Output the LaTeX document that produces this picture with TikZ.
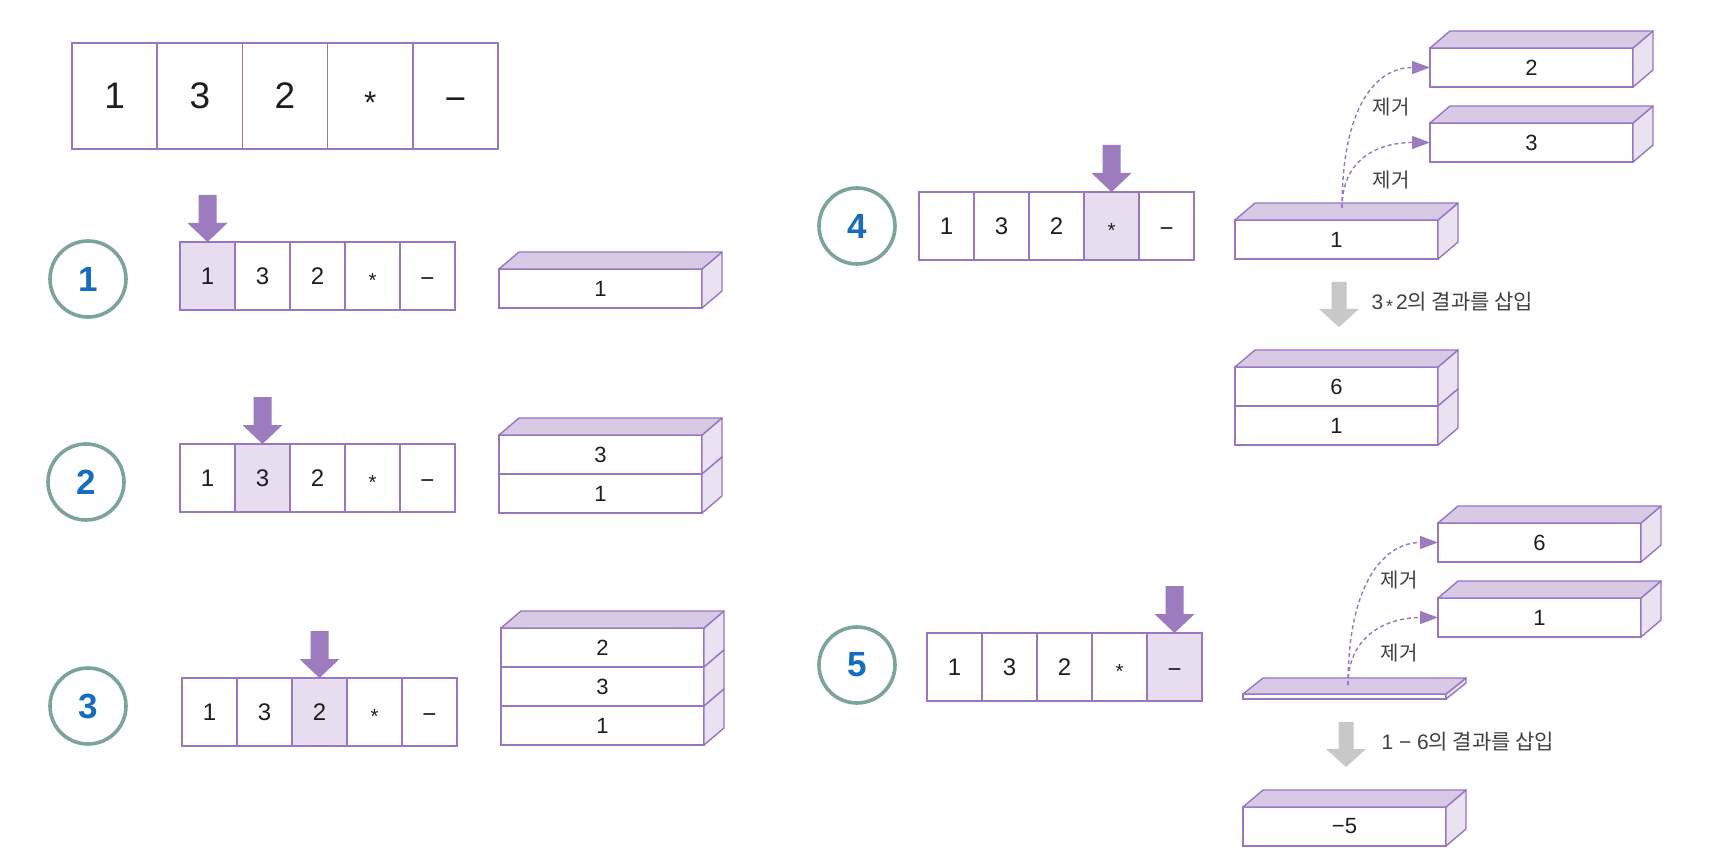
\documentclass[tikz,border=0pt]{standalone}
\usepackage{fontspec}
\setmainfont{Liberation Sans}
\newfontfamily\kr{Noto Sans CJK KR}
\usetikzlibrary{arrows.meta,calc}
\definecolor{pline}{RGB}{152,118,194}
\definecolor{parrowc}{RGB}{156,124,190}
\definecolor{topc}{RGB}{216,201,229}
\definecolor{sidec}{RGB}{234,226,241}
\definecolor{hlc}{RGB}{231,221,239}
\definecolor{circc}{RGB}{124,166,147}
\definecolor{numblue}{RGB}{22,108,190}
\definecolor{grayc}{RGB}{200,200,200}
\definecolor{txt}{RGB}{30,30,30}
\newcommand\mystar{\vphantom{0}\smash{\raisebox{-0.13em}{\scalebox{0.85}{*}}}}
\newcommand\mymin{\vphantom{0}\smash{\raisebox{-0.08em}{−}}}
\newcommand\bigfont{\fontsize{37}{40}\selectfont}
\newcommand\arrfont{\fontsize{24}{27}\selectfont}
\newcommand\stkfont{\fontsize{22}{25}\selectfont}
\newcommand\numfont{\fontsize{35}{38}\selectfont\bfseries}
\newcommand\lblfont{\fontsize{21}{24}\selectfont}
% array of 5 cells: name, x, y, highlighted index
\newcommand{\arr}[4]{%
  \foreach \t [count=\i] in {1,3,2,\mystar,\mymin} {%
    \ifnum\i=#4 \def\fc{hlc}\else\def\fc{white}\fi
    \node[cellc,fill=\fc] (#1c\i) at ({#2+55*(\i-1)},#3) {\t};
  }%
}
% stack of cells: name, x, y, labels
\newcommand{\stk}[4]{%
  \foreach \t [count=\i] in {#4} {%
    \node[stkc] (#1s\i) at (#2,{#3+39*(\i-1)}) {\t};
    \filldraw[face,fill=sidec] (#1s\i.north east) -- ++(20,-17) -- ++(0,39) -- (#1s\i.south east) -- cycle;
  }%
  \filldraw[face,fill=topc] (#1s1.north west) -- ++(20,-17) -- ([shift={(20,-17)}]#1s1.north east) -- (#1s1.north east) -- cycle;
}
\newcommand{\pointer}[1]{%
  \fill[parrowc] (#1.north) -- ++(-20,-19) -- ++(11,0) -- ++(0,-28) -- ++(18,0) -- ++(0,28) -- ++(11,0) -- cycle;}
\newcommand{\grayarrow}[1]{%
  \fill[grayc] (#1) -- ++(-20,-18) -- ++(12.5,0) -- ++(0,-27) -- ++(15,0) -- ++(0,27) -- ++(12.5,0) -- cycle;}
\begin{document}
\begin{tikzpicture}[x=1pt,y=-1pt,
  cellc/.style={draw=pline, line width=1.6pt, minimum width=55pt, minimum height=68pt,
    inner sep=0pt, outer sep=0pt, anchor=north west, font=\arrfont, text=txt},
  bigcell/.style={cellc, minimum width=85.2pt, minimum height=106pt, font=\bigfont},
  stkc/.style={draw=pline, line width=1.4pt, minimum width=203pt, minimum height=39pt,
    inner sep=0pt, outer sep=0pt, anchor=north west, fill=white, font=\stkfont, text=txt},
  face/.style={draw=pline, line width=1.4pt, line join=round},
  stepnum/.style={circle, draw=circc, line width=3.6pt, minimum size=76pt, inner sep=0pt,
    font=\numfont, text=numblue},
  dashc/.style={draw=pline, line width=1.4pt, dash pattern=on 4pt off 3pt,
    -{Triangle[length=18pt,width=13pt,fill=parrowc,color=parrowc]}},
  lbl/.style={font=\kr\fontsize{20}{23}\selectfont, text=txt!85!white},
  note/.style={anchor=west, font=\lblfont, text=txt!85!white}]
\useasboundingbox (0,0) rectangle (1710,866);
\fill[white] (0,0) rectangle (1710,866);

% top expression
\foreach \t [count=\i] in {1,3,2,\mystar,\mymin} {
  \node[bigcell,fill=white] (topc\i) at ({72+85.2*(\i-1)},43) {\t};
}

% step circles
\node[stepnum] (n1) at (88,279) {1};
\node[stepnum] (n2) at (86,482) {2};
\node[stepnum] (n3) at (88,706) {3};
\node[stepnum] (n4) at (857,226) {4};
\node[stepnum] (n5) at (857,665) {5};

% arrays
\arr{a}{180}{242}{1}
\arr{b}{180}{444}{2}
\arr{c}{182}{678}{3}
\arr{d}{919}{192}{4}
\arr{e}{927}{633}{5}
\pointer{ac1}
\pointer{bc2}
\pointer{cc3}
\pointer{dc4}
\pointer{ec5}

% stacks, left column
\stk{sa}{499}{269}{1}
\stk{sb}{499}{435}{3,1}
\stk{sc}{501}{628}{2,3,1}

% step 4
\stk{sd}{1235}{220}{1}
\stk{pa}{1430}{48}{2}
\stk{pb}{1430}{123}{3}
\coordinate (st4) at (1342,208);
\draw[dashc] (st4) .. controls +(0,-105) and +(-52,0) .. (pas1.west);
\draw[dashc] (st4) .. controls +(0,-52) and +(-48,0) .. (pbs1.west);
\node[lbl] (r1) at (1391,107) {제거};
\node[lbl] (r2) at (1391,180) {제거};
\coordinate (g1) at (1339,327);
\grayarrow{g1}
\node[note] (l1) at (1368,302) {3\hspace{3pt}\mystar\hspace{3pt}2{\kr 의 결과를 삽입}};
\stk{se}{1235}{367}{6,1}

% step 5
\node[stkc,minimum height=5pt] (slab) at (1243,694) {};
\filldraw[face,fill=sidec] (slab.north east) -- ++(20,-16) -- ++(0,5) -- (slab.south east) -- cycle;
\filldraw[face,fill=topc] (slab.north west) -- ++(20,-16) -- ([shift={(20,-16)}]slab.north east) -- (slab.north east) -- cycle;
\stk{pc}{1438}{523}{6}
\stk{pd}{1438}{598}{1}
\coordinate (st5) at (1348,685);
\draw[dashc] (st5) .. controls +(0,-105) and +(-52,0) .. (pcs1.west);
\draw[dashc] (st5) .. controls +(0,-52) and +(-48,0) .. (pds1.west);
\node[lbl] (r3) at (1399,580) {제거};
\node[lbl] (r4) at (1399,653) {제거};
\coordinate (g2) at (1346,767);
\grayarrow{g2}
\node[note] (l2) at (1378,742) {1 − 6{\kr 의 결과를 삽입}};
\stk{sf}{1243}{807}{−5}
\end{tikzpicture}
\end{document}
